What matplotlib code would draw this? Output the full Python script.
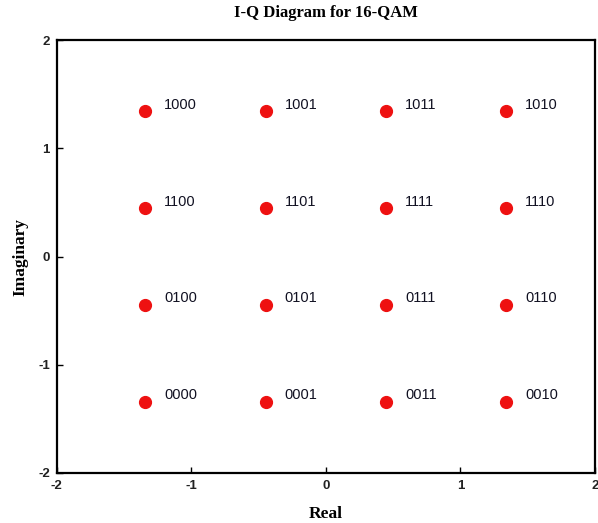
import matplotlib
matplotlib.use("Agg")
import matplotlib.pyplot as plt

plt.rcParams["axes.unicode_minus"] = False

# Data
i_vals = [-1.342, -0.447, 0.447, 1.342] * 4
q_vals = [1.342] * 4 + [0.447] * 4 + [-0.447] * 4 + [-1.342] * 4
bits = ["1000", "1001", "1011", "1010",
        "1100", "1101", "1111", "1110",
        "0100", "0101", "0111", "0110",
        "0000", "0001", "0011", "0010"]
ticks = [-2, -1, 0, 1, 2]

fig = plt.figure(figsize=(5.98, 5.23), dpi=100)
ax = fig.add_axes([0.095, 0.096, 0.9, 0.827])

ax.plot(i_vals, q_vals, "o", color="#ee1111", markersize=8.5, zorder=3)
for x, y, b in zip(i_vals, q_vals, bits):
    ax.text(x + 0.14, y + 0.06, b, fontsize=10.5, family="Liberation Sans",
            va="center", ha="left", color="#111122")

ax.set_xlim(-2, 2)
ax.set_ylim(-2, 2)
ax.set_xticks(ticks)
ax.set_yticks(ticks)
ax.tick_params(direction="in", length=4, width=1, labelsize=9.5, pad=5)
for lab in ax.get_xticklabels() + ax.get_yticklabels():
    lab.set_family("Liberation Sans")
    lab.set_fontweight("bold")
    lab.set_color("#222222")
for s in ax.spines.values():
    s.set_linewidth(1.6)

ax.set_title("I-Q Diagram for 16-QAM", family="Liberation Serif", fontweight="bold",
             fontsize=12, pad=17)
ax.set_xlabel("Real", family="Liberation Serif", fontweight="bold", fontsize=12.5, labelpad=10)
ax.set_ylabel("Imaginary", family="Liberation Serif", fontweight="bold", fontsize=12.5, labelpad=7)

fig.savefig("out.png", dpi=100)
